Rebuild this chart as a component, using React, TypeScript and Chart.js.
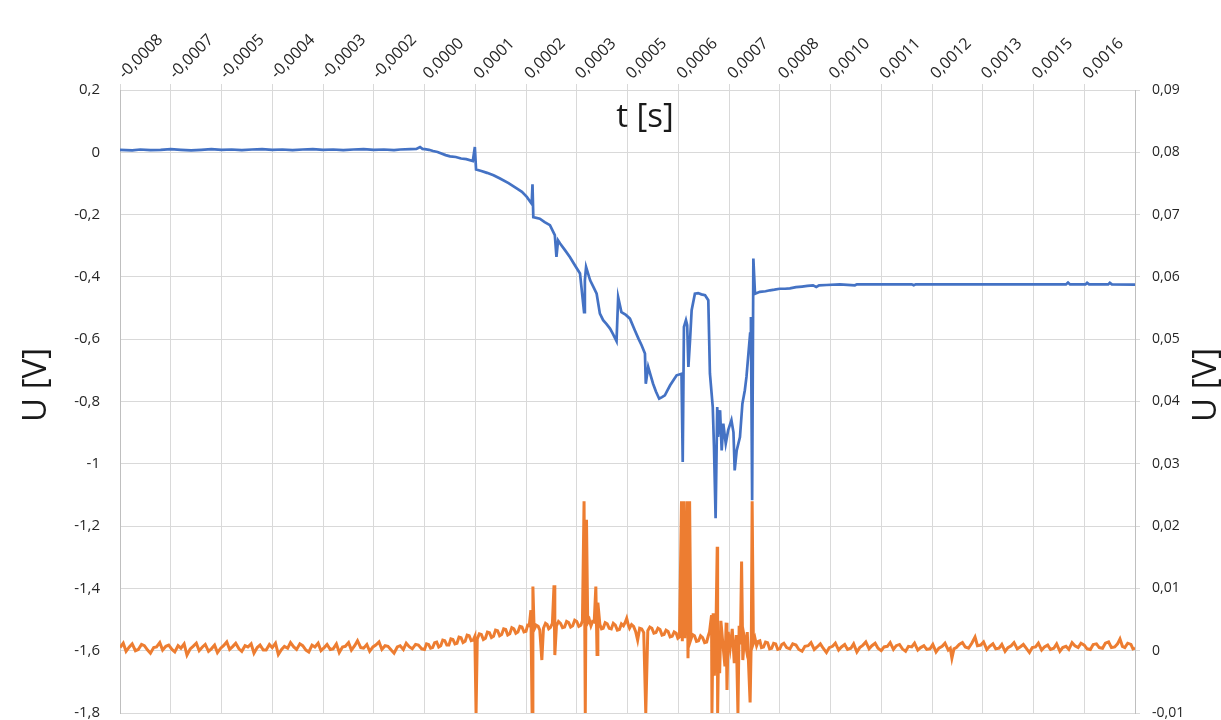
import React, { useEffect, useRef } from 'react';
import { Chart, registerables } from 'chart.js';

Chart.register(...registerables);

// time axis (µs): first labelled gridline and spacing between gridlines
const X_MIN_US = -790;
const X_STEP_US = 125;
const X_DIVISIONS = 20;

const xTickLabels = [
  '-0,0008', '-0,0007', '-0,0005', '-0,0004', '-0,0003', '-0,0002', '0,0000', '0,0001', '0,0002', '0,0003',
  '0,0005', '0,0006', '0,0007', '0,0008', '0,0010', '0,0011', '0,0012', '0,0013', '0,0015', '0,0016',
];

// Blue series (left axis, U [V]) — [t µs, U V]
const blueBefore: [number, number][] = [
  [-790, 0.008], [-760, 0.006], [-740, 0.009], [-715, 0.007], [-690, 0.008], [-665, 0.010], [-640, 0.008],
  [-615, 0.006], [-590, 0.008], [-565, 0.010], [-540, 0.008], [-515, 0.009], [-490, 0.007], [-465, 0.009],
  [-440, 0.010], [-415, 0.008], [-390, 0.009], [-365, 0.007], [-340, 0.009], [-315, 0.010], [-290, 0.008],
  [-265, 0.009], [-240, 0.007], [-215, 0.009], [-190, 0.010], [-165, 0.008], [-140, 0.009], [-115, 0.007],
  [-100, 0.009], [-75, 0.010], [-60, 0.011], [-51, 0.017], [-45, 0.011],
];
const blueEvent: [number, number][] = [
  [-39, 0.010], [-29, 0.008], [-19, 0.004], [-8, 0.001], [0, -0.003], [12, -0.009], [23, -0.013],
  [37, -0.015], [50, -0.020], [63, -0.022], [79, -0.028], [84, 0.017],
  [87, -0.055], [100, -0.060], [114, -0.066], [130, -0.074], [146, -0.084], [167, -0.099], [188, -0.117],
  [200, -0.127], [212, -0.143], [224, -0.165], [226, -0.103],
  [228, -0.208], [244, -0.213], [256, -0.224], [269, -0.234], [281, -0.266], [285, -0.336], [289, -0.283],
  [294, -0.293], [306, -0.314],
  [318, -0.336], [330, -0.362], [343, -0.389], [353, -0.513], [355, -0.411], [358, -0.368], [368, -0.411],
  [376, -0.432], [384, -0.454],
  [392, -0.518], [400, -0.539], [408, -0.551], [417, -0.566], [425, -0.585], [433, -0.606], [437, -0.465],
  [445, -0.513], [456, -0.522], [466, -0.534],
  [478, -0.571], [487, -0.598], [495, -0.620], [503, -0.646], [505, -0.743], [511, -0.689], [517, -0.716],
  [523, -0.743], [530, -0.768], [538, -0.791],
  [545, -0.786], [552, -0.780], [558, -0.765], [565, -0.748], [573, -0.732], [581, -0.716], [593, -0.711],
  [596, -0.994], [599, -0.561], [604, -0.539],
  [607, -0.555], [610, -0.689], [614, -0.604], [618, -0.507], [626, -0.454], [634, -0.452], [642, -0.456],
  [651, -0.459],
  [659, -0.475], [663, -0.710], [670, -0.818], [673, -0.944], [677, -1.175], [681, -0.818], [683, -0.914],
  [688, -0.828], [692, -0.957], [696, -0.871], [702, -0.935], [708, -0.892], [716, -0.860], [721, -0.899],
  [724, -1.021], [729, -0.957], [737, -0.914], [743, -0.807], [749, -0.764], [753, -0.721], [762, -0.582],
  [764, -0.529], [767, -1.117], [770, -0.341], [774, -0.454], [786, -0.448],
];
const blueAfter: [number, number][] = [
  [800, -0.446], [811, -0.443], [822, -0.441], [835, -0.438], [848, -0.438], [860, -0.437], [875, -0.433],
  [890, -0.431], [903, -0.429], [917, -0.427], [925, -0.432], [932, -0.427], [950, -0.426], [983, -0.424],
  [1020, -0.427], [1025, -0.424], [1100, -0.424], [1160, -0.424], [1165, -0.427], [1170, -0.424],
  [1250, -0.424], [1400, -0.424], [1540, -0.424], [1545, -0.418], [1550, -0.424],
  [1588, -0.424], [1592, -0.419], [1597, -0.424], [1644, -0.424], [1648, -0.419], [1653, -0.424], [1710, -0.425],
];

// Orange series (right axis, U [V]) — [t µs, U V]
const orangeBefore: [number, number][] = [
  [-790, 0.0005], [-782, 0.0012], [-775, -0.0001], [-767, 0.0006], [-760, 0.0011], [-752, 0.0000],
  [-745, 0.0002], [-737, 0.0010], [-730, 0.0008], [-722, 0.0001], [-715, -0.0004], [-707, 0.0005],
  [-700, 0.0006], [-692, 0.0013], [-685, 0.0001], [-677, 0.0007], [-670, 0.0009], [-662, 0.0002],
  [-655, -0.0002], [-647, 0.0008], [-640, 0.0004], [-632, 0.0011], [-625, -0.0007], [-617, 0.0003],
  [-610, 0.0007], [-602, 0.0012], [-595, 0.0000], [-587, 0.0006], [-580, 0.0010], [-572, -0.0001],
  [-565, 0.0003], [-557, 0.0009], [-550, -0.0003], [-542, 0.0004], [-535, 0.0008], [-527, 0.0014],
  [-520, 0.0002], [-512, 0.0007], [-505, 0.0012], [-497, 0.0003], [-490, -0.0001], [-482, 0.0008],
  [-475, 0.0006], [-467, 0.0011], [-460, -0.0004], [-452, 0.0005], [-445, 0.0009], [-437, 0.0001],
  [-430, 0.0001], [-422, 0.0010], [-415, 0.0005], [-407, 0.0012], [-400, -0.0006], [-392, 0.0002],
  [-385, 0.0007], [-377, 0.0004], [-370, 0.0013], [-362, 0.0006], [-355, 0.0002], [-347, 0.0011],
  [-340, 0.0008], [-332, 0.0001], [-325, -0.0002], [-317, 0.0009], [-310, 0.0006], [-302, 0.0012],
  [-295, 0.0000], [-287, 0.0005], [-280, 0.0010], [-272, 0.0002], [-265, 0.0003], [-257, 0.0011],
  [-250, -0.0003], [-242, 0.0006], [-235, 0.0007], [-227, 0.0013], [-220, 0.0001], [-212, 0.0008],
  [-205, 0.0016], [-197, 0.0005], [-190, 0.0004], [-182, 0.0010], [-175, -0.0001], [-167, 0.0006],
  [-160, 0.0009], [-152, 0.0014], [-145, 0.0002], [-137, 0.0008], [-130, 0.0007], [-122, 0.0001],
  [-115, -0.0004], [-107, 0.0006], [-100, 0.0008], [-92, 0.0002], [-85, 0.0012], [-77, 0.0006],
  [-70, 0.0003], [-62, 0.0010], [-55, 0.0009],
];
const orangeEvent: [number, number][] = [
  [-47, 0.0003], [-40, 0.0002], [-35, 0.0011], [-30, 0.0010], [-25, 0.0004], [-20, 0.0005], [-15, 0.0013],
  [-10, 0.0014], [-5, 0.0006], [0, 0.0008], [5, 0.0017], [10, 0.0016], [15, 0.0009], [20, 0.0009],
  [25, 0.0019], [30, 0.0018], [35, 0.0011], [40, 0.0012], [45, 0.0022], [50, 0.0021], [55, 0.0013],
  [60, 0.0015], [65, 0.0025], [70, 0.0024], [75, 0.0016], [80, 0.0017], [84, 0.0023], [87, -0.0100],
  [90, 0.0019], [95, 0.0027], [100, 0.0026], [105, 0.0018], [110, 0.0020], [115, 0.0030], [120, 0.0029],
  [125, 0.0021], [130, 0.0023], [135, 0.0033], [140, 0.0032], [145, 0.0024], [150, 0.0026], [155, 0.0035],
  [160, 0.0034], [165, 0.0025], [170, 0.0027], [175, 0.0037], [180, 0.0035], [185, 0.0028], [190, 0.0030],
  [195, 0.0039], [200, 0.0038], [205, 0.0030], [210, 0.0031], [214, 0.0041], [218, 0.0040],
  [222, 0.0065], [225, -0.0100], [227, 0.0103], [230, 0.0034], [235, 0.0041], [240, 0.0039], [244, 0.0033],
  [249, -0.0015], [253, 0.0036], [258, 0.0044], [262, 0.0042], [266, 0.0035], [270, 0.0037], [275, 0.0044],
  [279, 0.0105], [281, -0.0007], [285, 0.0040], [290, 0.0047], [295, 0.0044], [300, 0.0037], [305, 0.0038],
  [310, 0.0047], [315, 0.0045], [320, 0.0038], [325, 0.0040], [330, 0.0049], [335, 0.0047], [340, 0.0039],
  [345, 0.0041], [349, 0.0048], [353, 0.0240], [356, -0.0100], [359, 0.0210],
  [362, 0.0045], [366, 0.0050], [370, 0.0040], [374, 0.0047], [378, 0.0046], [382, 0.0103], [385, -0.0006],
  [387, 0.0077], [392, 0.0042], [396, 0.0035],
  [400, 0.0036], [405, 0.0045], [410, 0.0043], [415, 0.0036], [420, 0.0035], [425, 0.0044], [430, 0.0041],
  [435, 0.0033], [440, 0.0034], [445, 0.0043], [450, 0.0040], [454, 0.0045], [458, 0.0052],
  [462, 0.0041], [465, 0.0036], [470, 0.0042], [475, 0.0039], [480, 0.0031], [485, 0.0017], [490, 0.0036],
  [495, 0.0035], [500, 0.0029], [505, -0.0100], [510, 0.0032], [515, 0.0038], [520, 0.0036],
  [525, 0.0028], [530, 0.0029], [535, 0.0036], [540, 0.0034], [545, 0.0025], [550, 0.0026], [555, 0.0033],
  [560, 0.0031], [565, 0.0022], [570, 0.0023], [575, 0.0030], [580, 0.0028], [584, 0.0020], [588, 0.0022],
  [593, 0.0240], [595, 0.0015], [598, 0.0240], [601, 0.0020], [606, 0.0240], [609, -0.0012], [613, 0.0240],
  [616, 0.0018], [620, 0.0026], [625, 0.0024], [630, 0.0015], [635, 0.0016], [640, 0.0024], [645, 0.0021],
  [650, 0.0013], [655, 0.0014], [659, 0.0024], [662, 0.0030], [667, 0.0057],
  [668, -0.0100], [671, 0.0060], [674, -0.0040], [678, 0.0040], [681, 0.0167], [682, -0.0100], [685, 0.0030],
  [687, -0.0036], [690, 0.0048], [695, 0.0010], [700, -0.0025], [703, 0.0045], [705, -0.0063], [708, 0.0030],
  [713, 0.0005], [718, 0.0035], [723, -0.0020], [728, 0.0025], [732, -0.0100], [735, 0.0040], [738, 0.0010],
  [741, 0.0143], [744, -0.0015], [748, 0.0020], [752, 0.0005], [755, 0.0030], [762, -0.0083], [765, 0.0025],
  [767, 0.0240], [770, 0.0012], [774, 0.0020], [778, 0.0008], [782, 0.0015], [786, 0.0016], [790, 0.0005],
  [795, 0.0006], [800, 0.0014], [805, 0.0013], [810, 0.0003], [815, 0.0004], [820, 0.0012], [825, 0.0011],
  [830, 0.0002], [835, 0.0003], [840, 0.0010],
];
const orangeAfter: [number, number][] = [
  [845, 0.0012], [852, 0.0005], [860, 0.0003], [867, 0.0011], [875, 0.0009], [882, 0.0002], [890, -0.0001],
  [897, 0.0007], [905, 0.0008], [912, 0.0013], [920, 0.0002], [927, 0.0006], [935, 0.0011], [942, 0.0004],
  [950, -0.0003], [957, 0.0005], [965, 0.0007], [972, 0.0012], [980, 0.0001], [987, 0.0006], [995, 0.0010],
  [1002, 0.0002], [1010, 0.0004], [1017, 0.0011], [1025, -0.0002], [1032, 0.0005], [1040, 0.0009],
  [1047, 0.0014], [1055, 0.0003], [1062, 0.0008], [1070, 0.0012], [1077, 0.0004], [1085, 0.0000],
  [1092, 0.0006], [1100, 0.0007], [1107, 0.0013], [1115, 0.0002], [1122, 0.0008], [1130, 0.0010],
  [1137, 0.0003], [1145, -0.0001], [1152, 0.0007], [1160, 0.0006], [1167, 0.0012], [1175, 0.0001],
  [1182, 0.0005], [1190, 0.0008], [1197, 0.0002], [1205, 0.0003], [1212, 0.0010], [1220, -0.0002],
  [1227, 0.0004], [1235, 0.0007], [1242, 0.0012], [1250, 0.0001], [1255, 0.0004], [1259, -0.0012],
  [1264, 0.0003], [1270, 0.0005], [1277, 0.0010], [1285, 0.0013], [1292, 0.0006], [1300, 0.0004],
  [1308, 0.0012], [1316, 0.0022], [1322, 0.0008], [1330, 0.0009], [1337, 0.0014], [1345, 0.0002],
  [1352, 0.0007], [1360, 0.0011], [1367, 0.0003], [1375, 0.0004], [1382, 0.0010], [1390, -0.0001],
  [1397, 0.0005], [1405, 0.0008], [1412, 0.0013], [1420, 0.0003], [1427, 0.0006], [1435, 0.0010],
  [1442, 0.0004], [1450, -0.0003], [1457, 0.0005], [1465, 0.0006], [1472, 0.0012], [1480, 0.0001],
  [1487, 0.0006], [1495, 0.0009], [1502, 0.0002], [1510, 0.0004], [1517, 0.0011], [1525, -0.0001],
  [1532, 0.0005], [1540, 0.0007], [1547, 0.0002], [1555, 0.0013], [1562, 0.0008], [1570, 0.0005],
  [1577, 0.0012], [1585, 0.0009], [1592, 0.0003], [1600, 0.0002], [1607, 0.0010], [1615, 0.0011],
  [1622, 0.0005], [1630, 0.0004], [1637, 0.0012], [1645, 0.0014], [1652, 0.0005], [1660, 0.0006],
  [1667, 0.0011], [1673, 0.0019], [1679, 0.0007], [1685, 0.0005], [1692, 0.0012], [1700, 0.0010],
  [1705, 0.0003], [1710, 0.0004],
];

const FONT = '"Open Sans", "Noto Sans", sans-serif';
const TICK_COLOR = '#262626';
const GRID_COLOR = '#d9d9d9';

function fmt(v: number, digits: number): string {
  const p = Math.pow(10, digits);
  const r = Math.round(v * p) / p;
  return (r === 0 ? 0 : r).toString().replace('.', ',');
}

const toPoints = (segs: [number, number][][]) =>
  segs.flat().map(([t, u]) => ({ x: t * 1e-6, y: u }));

const zeroPadding = (scale: any) => {
  scale.paddingTop = 0;
  scale.paddingBottom = 0;
  scale.paddingLeft = 0;
  scale.paddingRight = 0;
};

const titlesPlugin = {
  id: 'axisTitles',
  afterDraw(chart: any) {
    const { ctx } = chart;
    const draw = (text: string, x: number, y: number, rot: number) => {
      ctx.save();
      ctx.fillStyle = '#1a1a1a';
      ctx.textAlign = 'center';
      ctx.textBaseline = 'middle';
      ctx.font = `33px ${FONT}`;
      ctx.translate(x, y);
      ctx.rotate(rot);
      ctx.fillText(text, 0, 0);
      ctx.restore();
    };
    draw('t [s]', 645, 118, 0);
    draw('U [V]', 37, 385, -Math.PI / 2);
    draw('U [V]', 1207, 385, -Math.PI / 2);
  },
};

export default function App() {
  const ref = useRef<HTMLCanvasElement | null>(null);

  useEffect(() => {
    if (!ref.current) return;
    const xMin = X_MIN_US * 1e-6;
    const xStep = X_STEP_US * 1e-6;
    const chart = new Chart(ref.current, {
      type: 'line',
      data: {
        datasets: [
          {
            label: 'U1',
            data: toPoints([blueBefore, blueEvent, blueAfter]),
            yAxisID: 'y',
            borderColor: '#4472C4',
            borderWidth: 2.7,
            pointRadius: 0,
            tension: 0,
            order: 1,
          },
          {
            label: 'U2',
            data: toPoints([orangeBefore, orangeEvent, orangeAfter]),
            yAxisID: 'y1',
            borderColor: '#ED7D31',
            borderWidth: 3,
            pointRadius: 0,
            tension: 0,
            order: 0,
          },
        ],
      },
      options: {
        responsive: false,
        animation: false,
        layout: { padding: { top: 0, left: 0, right: 0, bottom: 7 } },
        plugins: { legend: { display: false }, tooltip: { enabled: false } },
        scales: {
          x: {
            type: 'linear',
            position: 'top',
            min: xMin,
            max: xMin + X_DIVISIONS * xStep,
            afterBuildTicks: (scale: any) => {
              scale.ticks = xTickLabels.map((_, i) => ({ value: xMin + i * xStep }));
            },
            afterFit: (scale: any) => {
              scale.height = 90;
              zeroPadding(scale);
            },
            ticks: {
              autoSkip: false,
              minRotation: 45,
              maxRotation: 45,
              padding: 1,
              labelOffset: 15,
              color: TICK_COLOR,
              font: { family: FONT, size: 16 },
              callback: (_v: any, i: number) => xTickLabels[i] ?? '',
            },
            grid: { color: GRID_COLOR, tickColor: GRID_COLOR, tickLength: 6, lineWidth: 1 },
            border: { color: GRID_COLOR },
          },
          y: {
            type: 'linear',
            position: 'left',
            min: -1.8,
            max: 0.2,
            afterFit: (scale: any) => {
              scale.width = 120;
              zeroPadding(scale);
            },
            ticks: {
              stepSize: 0.2,
              padding: 20,
              color: TICK_COLOR,
              font: { family: FONT, size: 15 },
              callback: (v: any) => fmt(Number(v), 1),
            },
            grid: { color: GRID_COLOR, drawTicks: false },
            border: { color: '#bfbfbf' },
          },
          y1: {
            type: 'linear',
            position: 'right',
            min: -0.01,
            max: 0.09,
            afterFit: (scale: any) => {
              scale.width = 86;
              zeroPadding(scale);
            },
            ticks: {
              stepSize: 0.01,
              padding: 12,
              color: TICK_COLOR,
              font: { family: FONT, size: 14 },
              callback: (v: any) => fmt(Number(v), 2),
            },
            grid: { drawOnChartArea: false, color: GRID_COLOR, tickColor: GRID_COLOR, tickLength: 5 },
            border: { color: '#bfbfbf' },
          },
        },
      },
      plugins: [titlesPlugin],
    } as any);
    return () => chart.destroy();
  }, []);

  return (
    <div style={{ position: 'absolute', left: 0, top: 0, width: 1221, height: 720 }}>
      <canvas ref={ref} width={1221} height={720} style={{ width: 1221, height: 720, display: 'block' }} />
    </div>
  );
}
